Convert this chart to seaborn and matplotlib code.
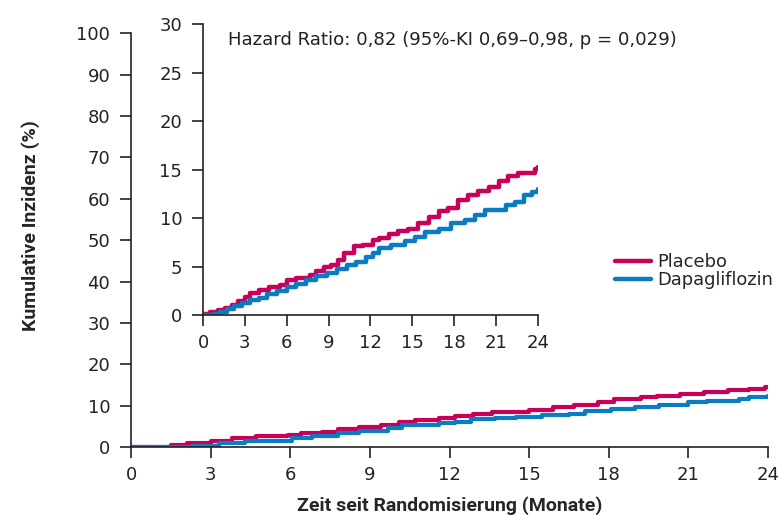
import pandas as pd
import matplotlib.pyplot as plt
import seaborn as sns
from matplotlib.lines import Line2D

sns.set_style("white")
plt.rcParams['font.family'] = ['DejaVu Sans']

# main panel (0-100 %), step curves
main_plac_t = [0, 1.5, 2.1, 3.0, 3.8, 4.7, 5.9, 6.4, 7.2, 7.8, 8.6, 9.4, 10.1, 10.7, 11.6, 12.2, 12.9,
               13.6, 15.0, 15.9, 16.7, 17.6, 18.2, 19.2, 19.8, 20.7, 21.6, 22.5, 23.3, 23.9, 24]
main_plac_v = [0, 0.5, 0.9, 1.4, 2.2, 2.6, 3.0, 3.3, 3.7, 4.3, 4.9, 5.3, 6.1, 6.5, 6.9, 7.5, 7.95,
               8.5, 9.0, 9.6, 10.1, 10.8, 11.5, 12.0, 12.4, 12.8, 13.3, 13.8, 14.1, 14.5, 14.5]
main_dapa_t = [0, 2.3, 3.3, 4.3, 6.05, 6.8, 7.8, 8.6, 9.7, 10.2, 11.6, 12.2, 12.8, 13.7, 14.5, 15.5,
               16.5, 17.1, 18.1, 19.0, 19.9, 21.0, 21.7, 22.9, 23.3, 24]
main_dapa_v = [0, 0.3, 0.9, 1.4, 2.2, 2.6, 3.3, 3.8, 4.5, 5.3, 5.9, 6.1, 6.7, 6.9, 7.3, 7.7,
               8.1, 8.7, 9.3, 9.7, 10.1, 10.8, 11.2, 11.7, 12.1, 12.4]

# inset (0-30 %)
ins_plac_t = [0, 0.5, 1.1, 1.6, 2.05, 2.5, 3.0, 3.4, 4.0, 4.7, 5.5, 6.0, 6.7, 7.7, 8.1, 8.7, 9.2, 9.7,
              10.1, 10.8, 11.5, 12.2, 12.6, 13.3, 14.0, 14.7, 15.4, 16.2, 16.9, 17.6, 18.3, 19.0,
              19.7, 20.5, 21.2, 21.9, 22.6, 23.8, 24]
ins_plac_v = [0.1, 0.3, 0.5, 0.7, 1.0, 1.4, 1.9, 2.3, 2.6, 2.9, 3.1, 3.6, 3.8, 4.1, 4.5, 5.0, 5.2, 5.7,
              6.4, 7.1, 7.2, 7.7, 8.0, 8.4, 8.7, 8.9, 9.5, 10.1, 10.7, 11.0, 11.9, 12.4,
              12.8, 13.2, 13.8, 14.3, 14.7, 15.1, 15.3]
ins_dapa_t = [0, 0.8, 1.2, 1.7, 2.2, 2.8, 3.4, 4.0, 4.6, 5.3, 6.0, 6.7, 7.4, 8.1, 8.9, 9.6, 10.3, 11.0,
              11.7, 12.2, 12.6, 13.5, 14.5, 15.2, 15.9, 16.9, 17.8, 18.8, 19.5, 20.2, 21.7, 22.4,
              23.0, 23.6, 24]
ins_dapa_v = [0, 0.1, 0.35, 0.6, 0.9, 1.2, 1.55, 1.8, 2.2, 2.5, 2.9, 3.2, 3.6, 4.0, 4.3, 4.7, 5.2, 5.5,
              6.0, 6.4, 6.9, 7.2, 7.6, 8.1, 8.6, 8.9, 9.5, 9.8, 10.3, 10.8, 11.4, 11.7,
              12.4, 12.7, 13.0]

groups = ["Placebo", "Dapagliflozin"]
colors = {"Placebo": "#C8005A", "Dapagliflozin": "#0A7CC4"}
x_ticks = [0, 3, 6, 9, 12, 15, 18, 21, 24]
label_font = ['Liberation Sans Narrow', 'Roboto', 'DejaVu Sans']

def make_df(pt, pv, dt, dv):
    a = pd.DataFrame({"t": pt, "v": pv, "grp": "Placebo"})
    b = pd.DataFrame({"t": dt, "v": dv, "grp": "Dapagliflozin"})
    return pd.concat([a, b], ignore_index=True)

main_df = make_df(main_plac_t, main_plac_v, main_dapa_t, main_dapa_v)
ins_df = make_df(ins_plac_t, ins_plac_v, ins_dapa_t, ins_dapa_v)

fig = plt.figure(figsize=(7.8, 5.15), dpi=100)
ax = fig.add_axes([0.168, 0.132, 0.8166, 0.8033])

def style_axes(a):
    for s in ["top", "right"]:
        a.spines[s].set_visible(False)
    for s in ["left", "bottom"]:
        a.spines[s].set_linewidth(1.2)
        a.spines[s].set_color("#222222")
    a.tick_params(direction="out", length=8, width=1.2, colors="#222222",
                  labelsize=13, pad=7, left=True, bottom=True)
    a.tick_params(axis="x", pad=6)
    a.grid(False)

sns.lineplot(data=main_df, x="t", y="v", hue="grp", hue_order=groups, palette=colors,
             drawstyle="steps-post", linewidth=3, estimator=None, ax=ax, legend=False)
ax.set_xlim(0, 24)
ax.set_ylim(0, 100)
ax.set_xticks(x_ticks)
ax.set_yticks(range(0, 101, 10))
style_axes(ax)
ax.set_xlabel("Zeit seit Randomisierung (Monate)", fontsize=14, fontweight="bold", family=label_font)
ax.set_ylabel("Kumulative Inzidenz (%)", fontsize=14, fontweight="bold", family=label_font)
ax.xaxis.set_label_coords(0.5, -0.118)
ax.yaxis.set_label_coords(-0.143, 0.536)

handles = [Line2D([0], [0], color=colors[g], lw=3.2) for g in groups]
fig.legend(handles, groups, loc="center left", bbox_to_anchor=(0.772, 0.473), frameon=False,
           fontsize=12.9, handlelength=2.05, handletextpad=0.3,
           labelspacing=0.0, borderpad=0.2)

ins = fig.add_axes([0.2603, 0.3883, 0.4291, 0.5645])
sns.lineplot(data=ins_df, x="t", y="v", hue="grp", hue_order=groups, palette=colors,
             drawstyle="steps-post", linewidth=3.2, estimator=None, ax=ins, legend=False)
ins.set_xlim(0, 24)
ins.set_ylim(0, 30)
ins.set_xticks(x_ticks)
ins.set_yticks(range(0, 31, 5))
style_axes(ins)
ins.set_xlabel("")
ins.set_ylabel("")
ins.text(0.075, 0.946, "Hazard Ratio: 0,82 (95%-KI 0,69–0,98, p = 0,029)", transform=ins.transAxes,
         fontsize=13.1, va="center", ha="left", color="#222222")

fig.savefig("out.png", dpi=100)
